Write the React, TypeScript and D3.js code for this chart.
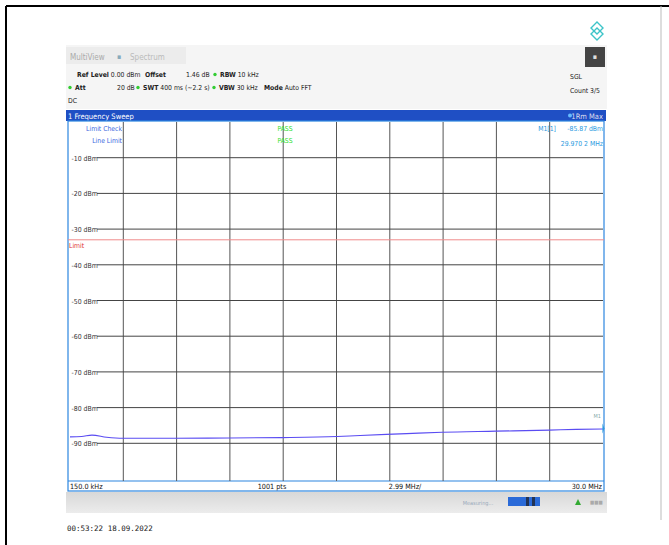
import { useEffect } from 'react';
import * as d3 from 'd3';

// trace: frequency (MHz) and level (dBm)
const traceFreq = [0.15, 0.8, 1.38, 2.2, 3.12, 6.0, 9.1, 12.0, 15.1, 16.4, 19.0, 21.0, 24.0, 27.0, 28.5, 30.0];
const traceLevel = [-88.2, -88.1, -87.7, -88.3, -88.6, -88.6, -88.5, -88.4, -88.1, -87.8, -87.3, -86.9, -86.6, -86.3, -86.1, -86.0];
const levelTicks = [-10, -20, -30, -40, -50, -60, -70, -80, -90];
const freqGrid = [0, 1, 2, 3, 4, 5, 6, 7, 8, 9, 10];
const limitLevel = -33;
const startFreq = 0.15;
const stopFreq = 30.0;

const FONT = "'DejaVu Sans Condensed', 'Liberation Sans Narrow', 'DejaVu Sans', sans-serif";

export default function App() {
  useEffect(() => {
    document.body.style.margin = '0';
  }, []);

  const left = 70, right = 603, top = 122, bottom = 479;
  const x = d3.scaleLinear().domain([startFreq, stopFreq]).range([left, right]);
  const y = d3.scaleLinear().domain([0, -100]).range([top, bottom]);
  const gx = d3.scaleLinear().domain([0, 10]).range([left, right]);

  const line = d3.line<number>()
    .x((_, i) => x(traceFreq[i]))
    .y(d => y(d))
    .curve(d3.curveMonotoneX);

  return (
    <svg width={669} height={545} style={{ display: 'block', background: '#fff' }}>
      {/* outer frame */}
      <line x1={6} y1={6} x2={669} y2={6} stroke="#000" strokeWidth={2} />
      <line x1={6} y1={6} x2={6} y2={545} stroke="#000" strokeWidth={2} />
      <line x1={661} y1={6} x2={661} y2={520} stroke="#bbb" strokeWidth={1} />

      {/* logo */}
      <g transform="translate(597,31)" fill="none" stroke="#3cc4c8" strokeWidth={1.4}>
        <path d="M0,-9 L6,-3 L0,3 L-6,-3 Z" />
        <path d="M0,-3 L6,3 L0,9 L-6,3 Z" />
      </g>

      {/* header panel */}
      <rect x={66} y={45} width={541} height={64} fill="#f5f5f5" />
      <rect x={66} y={47} width={120} height={17} fill="#ececec" />
      <g fontFamily={FONT} fontStretch="condensed">
        <text x={70} y={60} fontSize={8} fill="#aaa">MultiView</text>
        <text x={117} y={59} fontSize={7} fill="#8ab">▪</text>
        <text x={130} y={60} fontSize={8} fill="#bbb">Spectrum</text>
      </g>
      <rect x={585} y={47} width={20} height={20} fill="#444" />
      <text x={595} y={59} fontFamily={FONT} fontSize={7} fill="#ddd" textAnchor="middle">▪</text>

      <g fontFamily={FONT} fontStretch="condensed" fontSize={6.8} fill="#222">
        <text x={77} y={77}><tspan fontWeight="bold">Ref Level</tspan> 0.00 dBm</text>
        <text x={145} y={77} fontWeight="bold">Offset</text>
        <text x={186} y={77}>1.46 dB</text>
        <circle cx={215} cy={74.5} r={1.7} fill="#3c3" />
        <text x={220} y={77}><tspan fontWeight="bold">RBW</tspan> 10 kHz</text>
        <circle cx={70} cy={87.5} r={1.7} fill="#3c3" />
        <text x={75} y={90} fontWeight="bold">Att</text>
        <text x={117} y={90}>20 dB</text>
        <circle cx={138} cy={87.5} r={1.7} fill="#3c3" />
        <text x={143} y={90}><tspan fontWeight="bold">SWT</tspan> 400 ms (~2.2 s)</text>
        <circle cx={214} cy={87.5} r={1.7} fill="#3c3" />
        <text x={219} y={90}><tspan fontWeight="bold">VBW</tspan> 30 kHz</text>
        <text x={264} y={90}><tspan fontWeight="bold">Mode</tspan> Auto FFT</text>
        <text x={68} y={103}>DC</text>
        <text x={570} y={79}>SGL</text>
        <text x={570} y={93}>Count 3/5</text>
      </g>

      {/* title bar */}
      <rect x={66} y={110} width={540} height={11} fill="#1f4fc4" />
      <text x={68} y={118.5} fontFamily={FONT} fontStretch="condensed" fontSize={7.5} fill="#fff">1 Frequency Sweep</text>
      <circle cx={570} cy={115.5} r={2} fill="#6bf" />
      <text x={603} y={118.5} fontFamily={FONT} fontStretch="condensed" fontSize={7.5} fill="#dde" textAnchor="end">1Rm Max</text>

      {/* plot background and border */}
      <rect x={68} y={121} width={536} height={370} fill="#fff" stroke="#2c86e0" strokeWidth={1.2} />
      <line x1={68} y1={481} x2={604} y2={481} stroke="#2c86e0" strokeWidth={1.2} />

      {/* grid */}
      {freqGrid.slice(1, -1).map(g => (
        <line key={'v' + g} x1={gx(g)} y1={top} x2={gx(g)} y2={bottom + 2} stroke="#555" strokeWidth={1} />
      ))}
      {levelTicks.map(t => (
        <line key={'h' + t} x1={left} y1={y(t)} x2={right} y2={y(t)} stroke="#444" strokeWidth={1} />
      ))}
      {levelTicks.map(t => (
        <g key={'l' + t}>
          <rect x={left} y={y(t) - 5} width={27} height={10} fill="#fff" />
          <text x={left + 1.5} y={y(t) + 3} fontFamily={FONT} fontStretch="condensed" fontSize={6.9} fill="#333">{t} dBm</text>
        </g>
      ))}

      {/* limit line */}
      <line x1={68} y1={y(limitLevel)} x2={604} y2={y(limitLevel)} stroke="#f08a8a" strokeWidth={1} />
      <text x={69} y={y(limitLevel) + 8} fontFamily={FONT} fontStretch="condensed" fontSize={6.8} fill="#e03030">Limit</text>

      {/* limit check */}
      <g fontFamily={FONT} fontStretch="condensed" fontSize={6.8}>
        <text x={122} y={131} fill="#3a66e0" textAnchor="end">Limit Check</text>
        <text x={122} y={143} fill="#3a66e0" textAnchor="end">Line Limit</text>
        <text x={285} y={131} fill="#2ee02e" textAnchor="middle">PASS</text>
        <text x={285} y={143} fill="#2ee02e" textAnchor="middle">PASS</text>
        <text x={556} y={131} fill="#2a9ae0" textAnchor="end">M1[1]</text>
        <text x={603} y={131} fill="#2a9ae0" textAnchor="end">-85.87 dBm</text>
        <text x={603} y={146} fill="#2a9ae0" textAnchor="end">29.970 2 MHz</text>
        <text x={601} y={418} fill="#8aa" fontSize={5.5} textAnchor="end">M1</text>
      </g>

      {/* trace */}
      <path d={line(traceLevel) || ''} fill="none" stroke="#5a4cf2" strokeWidth={1.1} />
      <path d={`M${x(29.97)},${y(-85.87) - 5} l2,5 l-2,5 z`} fill="#2a9ae0" />

      {/* frequency bar */}
      <g fontFamily={FONT} fontStretch="condensed" fontSize={7.2} fill="#111">
        <text x={70} y={489}>{(startFreq * 1000).toFixed(1)} kHz</text>
        <text x={272} y={489} textAnchor="middle">1001 pts</text>
        <text x={405} y={489} textAnchor="middle">2.99 MHz/</text>
        <text x={602} y={489} textAnchor="end">{stopFreq.toFixed(1)} MHz</text>
      </g>

      {/* status bar */}
      <defs>
        <linearGradient id="sb" x1="0" y1="0" x2="0" y2="1">
          <stop offset="0" stopColor="#d8d8d8" />
          <stop offset="1" stopColor="#ececec" />
        </linearGradient>
      </defs>
      <rect x={66} y={492} width={541} height={21} fill="url(#sb)" />
      <text x={478} y={505} fontFamily={FONT} fontSize={5.5} fill="#9ab" textAnchor="middle">Measuring...</text>
      <rect x={508} y={497} width={32} height={9} fill="#2a6ad8" />
      <rect x={526} y={497} width={3} height={9} fill="#235" />
      <rect x={532} y={497} width={3} height={9} fill="#235" />
      <path d="M575,505 l3,-6 l3,6 z" fill="#3a3" />
      <text x={590} y={504} fontFamily={FONT} fontSize={5} fill="#aaa">■■■</text>

      {/* timestamp */}
      <text x={67} y={531} fontFamily="'DejaVu Sans Mono', monospace" fontSize={7.5} fill="#222">00:53:22  18.09.2022</text>
    </svg>
  );
}
